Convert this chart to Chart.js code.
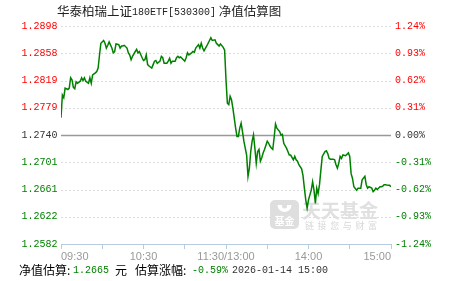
<!DOCTYPE html>
<html>
<head>
<meta charset="utf-8">
<script src="https://cdn.jsdelivr.net/npm/chart.js@4/dist/chart.umd.min.js"></script>
<style>
  html, body { margin: 0; padding: 0; background: #fff; }
</style>
</head>
<body>
<canvas id="c" width="451" height="281"></canvas>
<script>
// previous close and the percent ticks of the two y axes
const preClose = 1.2740;
const pctTicks = [1.24, 0.93, 0.62, 0.31, 0, -0.31, -0.62, -0.93, -1.24];
const leftTicks = ['1.2898', '1.2858', '1.2819', '1.2779', '1.2740', '1.2701', '1.2661', '1.2622', '1.2582'];
const rightTicks = ['1.24%', '0.93%', '0.62%', '0.31%', '0.00%', '-0.31%', '-0.62%', '-0.93%', '-1.24%'];

// x axis: trading minutes since 09:30 (11:30 and 13:00 share minute 120)
const xTicks = [0, 30, 60, 90, 120, 150, 180, 210, 240];
const xTickLabels = ['09:30', '', '10:30', '', '11:30/13:00', '', '14:00', '', '15:00'];

// estimated NAV
const minutes = [
  0, 1, 2, 3, 5, 6, 7, 8, 9, 10, 11, 12, 14, 15, 16, 17, 18, 20, 21, 22, 23, 25, 26, 27, 28, 29,
  31, 32, 33, 34, 35, 37, 38, 39, 40, 42, 43, 44, 45, 46, 48, 49, 50, 51, 52, 54, 55, 56, 57, 59,
  60, 61, 62, 63, 64, 66, 67, 68, 69, 70, 72, 73, 74, 75, 77, 78, 79, 80, 81, 83, 84, 85, 86, 87,
  89, 90, 91, 92, 93, 95, 96, 97, 98, 100, 101, 102, 103, 104, 106, 107, 108, 109, 110, 112, 113,
  114, 115, 116, 118, 119,
  120, 121, 122, 123, 124, 125, 127, 128, 129, 130, 131, 132, 133, 135, 136, 137, 138, 139, 140,
  141, 142, 143, 144, 145, 146, 147, 148, 150, 151, 152, 153, 154, 155, 156, 157, 159, 160, 161,
  162, 164, 165, 166, 167, 169, 170, 171, 172, 173, 175, 176, 177, 178, 179, 180, 182, 183, 184,
  185, 186, 187, 188, 189, 190, 192, 193, 194, 195, 196, 198, 199, 200, 201, 202, 203, 204, 205,
  207, 208, 209, 210, 211, 212, 213, 215, 216, 217, 218, 219, 221, 222, 223, 224, 226, 227, 228,
  229, 230, 232, 233, 234, 235, 236, 238, 239, 240
];
const navs = [
  1.2765, 1.2798, 1.2794, 1.2808, 1.2806, 1.2808, 1.2823, 1.2820, 1.2809, 1.2807, 1.2817, 1.2815,
  1.2818, 1.2823, 1.2819, 1.2823, 1.2818, 1.2815, 1.2823, 1.2815, 1.2827, 1.2830, 1.2832, 1.2837,
  1.2856, 1.2873, 1.2877, 1.2873, 1.2866, 1.2870, 1.2875, 1.2866, 1.2859, 1.2861, 1.2872, 1.2871,
  1.2866, 1.2869, 1.2869, 1.2870, 1.2866, 1.2859, 1.2856, 1.2849, 1.2854, 1.2861, 1.2864, 1.2859,
  1.2861, 1.2852, 1.2848, 1.2849, 1.2856, 1.2842, 1.2840, 1.2837, 1.2842, 1.2847, 1.2848, 1.2844,
  1.2847, 1.2854, 1.2852, 1.2844, 1.2844, 1.2847, 1.2851, 1.2844, 1.2847, 1.2847, 1.2852, 1.2854,
  1.2852, 1.2853, 1.2849, 1.2847, 1.2852, 1.2859, 1.2856, 1.2859, 1.2861, 1.2860, 1.2866, 1.2871,
  1.2866, 1.2873, 1.2866, 1.2862, 1.2869, 1.2873, 1.2877, 1.2881, 1.2877, 1.2878, 1.2873, 1.2871,
  1.2869, 1.2872, 1.2867, 1.2863,
  1.2820, 1.2786, 1.2784, 1.2796, 1.2791, 1.2779, 1.2750, 1.2738, 1.2738, 1.2750, 1.2757, 1.2745,
  1.2731, 1.2711, 1.2680, 1.2692, 1.2716, 1.2731, 1.2740, 1.2721, 1.2699, 1.2716, 1.2719, 1.2702,
  1.2707, 1.2714, 1.2719, 1.2731, 1.2728, 1.2724, 1.2721, 1.2719, 1.2736, 1.2756, 1.2750, 1.2745,
  1.2740, 1.2741, 1.2728, 1.2721, 1.2716, 1.2711, 1.2711, 1.2704, 1.2709, 1.2704, 1.2702, 1.2697,
  1.2691, 1.2681, 1.2663, 1.2646, 1.2634, 1.2646, 1.2660, 1.2672, 1.2660, 1.2641, 1.2663, 1.2655,
  1.2668, 1.2689, 1.2709, 1.2716, 1.2717, 1.2713, 1.2706, 1.2705, 1.2705, 1.2704, 1.2697, 1.2692,
  1.2699, 1.2709, 1.2706, 1.2711, 1.2710, 1.2712, 1.2714, 1.2709, 1.2684, 1.2677, 1.2665, 1.2660,
  1.2663, 1.2663, 1.2663, 1.2675, 1.2680, 1.2668, 1.2663, 1.2665, 1.2663, 1.2658, 1.2660, 1.2663,
  1.2661, 1.2665, 1.2665, 1.2666, 1.2668, 1.2668, 1.2667, 1.2667, 1.2665
];

const title = ['华泰柏瑞上证', '180ETF[530300]', ' 净值估算图'];
const lastNav = '1.2665';
const lastPct = '-0.59%';
const lastTime = '2026-01-14 15:00';

const RED = '#ff0000', GREEN = '#008000', FLAT = '#333333';
const monoFont = '10px "Liberation Mono", "DejaVu Sans Mono", monospace';
const cjkFont = '"Noto Sans CJK SC", sans-serif';

const tickValues = pctTicks.map(p => preClose * (1 + p / 100)).reverse(); // ascending
const colorFor = v => Math.abs(v - preClose) < 1e-7 ? FLAT : (v > preClose ? RED : GREEN);

const extras = {
  id: 'extras',
  beforeDatasetsDraw(chart) {
    const { ctx, chartArea: a, scales } = chart;
    const y = scales.y;
    ctx.save();
    // horizontal grid
    tickValues.forEach(v => {
      const py = Math.round(y.getPixelForValue(v)) + 0.5;
      ctx.beginPath();
      if (Math.abs(v - preClose) < 1e-7) {
        ctx.setLineDash([]);
        ctx.strokeStyle = '#999';
        ctx.lineWidth = 1.5;
      } else if (v > y.min + 1e-7) {
        ctx.setLineDash([2, 2]);
        ctx.strokeStyle = '#dcdcdc';
        ctx.lineWidth = 1;
      } else {
        return;
      }
      ctx.moveTo(a.left, py);
      ctx.lineTo(a.right, py);
      ctx.stroke();
    });
    ctx.setLineDash([]);

    // watermark
    ctx.fillStyle = '#dedede';
    ctx.beginPath();
    ctx.roundRect(270, 200, 29, 29, 5);
    ctx.fill();
    ctx.fillStyle = '#ffffff';
    ctx.beginPath();
    ctx.arc(284.5, 205, 7, 0, Math.PI);
    ctx.fill();
    ctx.fillStyle = '#dedede';
    ctx.beginPath();
    ctx.arc(284.5, 206, 2.5, 0, Math.PI * 2);
    ctx.fill();
    ctx.fillStyle = '#ffffff';
    ctx.font = 'bold 10px ' + cjkFont;
    ctx.textAlign = 'center';
    ctx.textBaseline = 'middle';
    ctx.fillText('基金', 284.5, 221);
    ctx.fillStyle = '#e0e0e0';
    ctx.font = 'bold 19px ' + cjkFont;
    ctx.textAlign = 'left';
    ctx.fillText('天天基金', 302, 211);
    ctx.fillStyle = '#d8d8d8';
    ctx.font = '9px ' + cjkFont;
    const sub = '链接您与财富';
    for (let i = 0; i < sub.length; i++) ctx.fillText(sub[i], 305 + i * 12.6, 226);
    ctx.restore();
  },
  afterDraw(chart) {
    const { ctx } = chart;
    ctx.save();
    ctx.textBaseline = 'middle';
    ctx.textAlign = 'left';
    // title
    let x = 57;
    ctx.fillStyle = '#222';
    title.forEach((t, i) => {
      ctx.font = i === 1 ? monoFont : '12.5px ' + cjkFont;
      ctx.fillText(t, x, i === 1 ? 12 : 11);
      x += ctx.measureText(t).width;
    });
    // bottom info line
    const parts = [
      ['净值估算:', '#000', '12px ' + cjkFont, 19],
      [lastNav, GREEN, monoFont, 73],
      ['元', '#000', '12px ' + cjkFont, 115],
      ['估算涨幅:', '#000', '12px ' + cjkFont, 135],
      [lastPct, GREEN, monoFont, 192],
      [lastTime, '#333', monoFont, 232]
    ];
    parts.forEach(([t, c, f, px]) => {
      ctx.fillStyle = c;
      ctx.font = f;
      ctx.fillText(t, px, 270);
    });
    ctx.restore();
  }
};

new Chart(document.getElementById('c'), {
  type: 'line',
  data: {
    datasets: [{
      data: minutes.map((m, i) => ({ x: m, y: navs[i] })),
      borderColor: GREEN,
      borderWidth: 1.5,
      pointRadius: 0,
      tension: 0,
      fill: false
    }]
  },
  options: {
    responsive: false,
    animation: false,
    devicePixelRatio: 1,
    layout: { padding: { top: 26, left: 0, right: 0, bottom: 0 } },
    plugins: { legend: { display: false }, tooltip: { enabled: false }, title: { display: false } },
    scales: {
      x: {
        type: 'linear',
        min: 0,
        max: 240,
        afterBuildTicks: s => { s.ticks = xTicks.map(v => ({ value: v })); },
        afterFit: s => { s.height = 37; },
        ticks: {
          autoSkip: false,
          maxRotation: 0,
          align: 'inner',
          padding: 1,
          color: '#999',
          font: { family: '"Liberation Sans", Arial, sans-serif', size: 11 },
          callback: (v, i) => xTickLabels[i]
        },
        grid: { drawOnChartArea: false, drawTicks: true, tickLength: 5, color: '#b8cce0' },
        border: { display: true, color: '#b8cce0' }
      },
      y: {
        position: 'left',
        min: tickValues[0],
        max: tickValues[tickValues.length - 1],
        afterBuildTicks: s => { s.ticks = tickValues.map(v => ({ value: v })); },
        afterFit: s => { s.width = 61; },
        grid: { display: false, drawTicks: false },
        border: { display: false },
        ticks: {
          padding: 3.5,
          color: c => colorFor(c.tick.value),
          font: { family: '"Liberation Mono", "DejaVu Sans Mono", monospace', size: 10 },
          callback: (v, i) => leftTicks[leftTicks.length - 1 - i]
        }
      },
      y2: {
        position: 'right',
        min: tickValues[0],
        max: tickValues[tickValues.length - 1],
        afterBuildTicks: s => { s.ticks = tickValues.map(v => ({ value: v })); },
        afterFit: s => { s.width = 60; },
        grid: { display: false, drawTicks: false },
        border: { display: false },
        ticks: {
          padding: 4,
          color: c => colorFor(c.tick.value),
          font: { family: '"Liberation Mono", "DejaVu Sans Mono", monospace', size: 10 },
          callback: (v, i) => rightTicks[rightTicks.length - 1 - i]
        }
      }
    }
  },
  plugins: [extras]
});
</script>
</body>
</html>
